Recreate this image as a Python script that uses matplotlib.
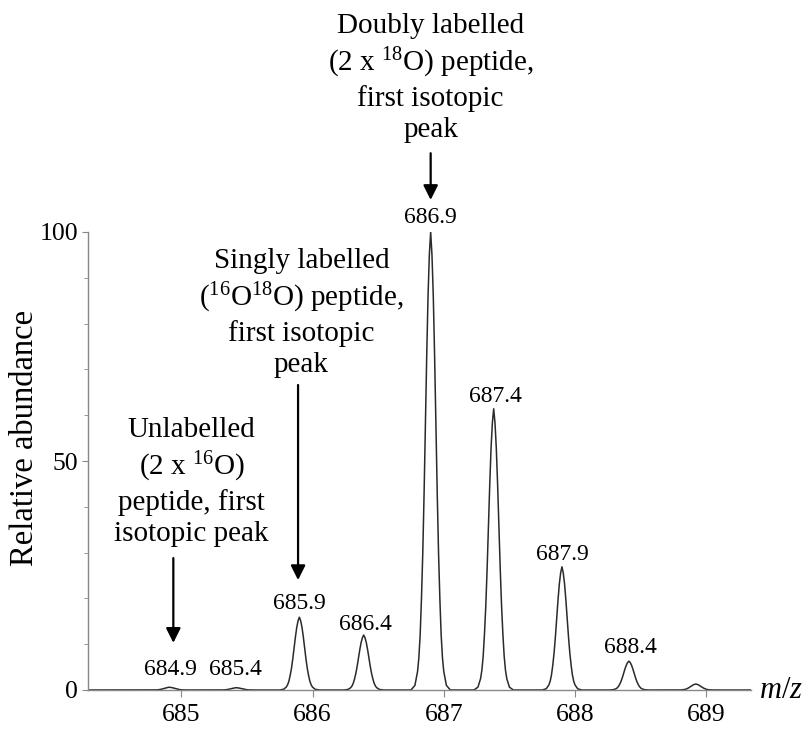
import matplotlib
matplotlib.use("Agg")
import matplotlib.pyplot as plt
import numpy as np

plt.rcParams['font.family'] = ['Liberation Serif', 'DejaVu Serif']
plt.rcParams['mathtext.fontset'] = 'custom'
plt.rcParams['mathtext.rm'] = 'Liberation Serif'
plt.rcParams['mathtext.it'] = 'Liberation Serif:italic'

# isotopic peaks
peak_mz = [684.91, 685.42, 685.90, 686.39, 686.90, 687.38, 687.90, 688.41, 688.92]
peak_height = [0.6, 0.5, 15.9, 12.0, 100.0, 61.4, 26.9, 6.3, 1.3]

# shape of one peak (offset in m/z, fraction of its height), read from the 686.9 peak
shape_offset = [0.0, 0.01, 0.02, 0.03, 0.04, 0.05, 0.06, 0.07, 0.08, 0.09, 0.10, 0.12, 0.15]
shape_frac = [1.0, 0.95, 0.86, 0.73, 0.58, 0.43, 0.30, 0.20, 0.12, 0.07, 0.04, 0.01, 0.0]

# labelled m/z values above peaks
mz_labels = ["684.9", "685.4", "685.9", "686.4", "686.9", "687.4", "687.9", "688.4"]
mz_label_x = [684.92, 685.41, 685.90, 686.40, 686.90, 687.39, 687.90, 688.42]
mz_label_y = [4.4, 4.4, 18.8, 14.2, 103.1, 64.0, 29.5, 9.2]

notes = [
    "Unlabelled\n(2 x $^{16}$O)\npeptide, first\nisotopic peak",
    "Singly labelled\n($^{16}$O$^{18}$O) peptide,\nfirst isotopic\npeak",
    "Doubly labelled\n(2 x $^{18}$O) peptide,\nfirst isotopic\npeak",
]
note_x = [685.08, 685.915, 686.90]
note_y = [45.4, 82.3, 133.6]
arrow_x = [684.94, 685.89, 686.90]
arrow_from = [28.8, 66.6, 117.2]
arrow_to = [10.3, 24.0, 107.0]

# build the trace from the peak table
xmin, xmax = 684.29, 689.34
off = np.array(shape_offset)
frac = np.array(shape_frac)
xs = [xmin]
ys = [0.0]
for c, h in zip(peak_mz, peak_height):
    xs += list(c - off[::-1]) + list(c + off[1:])
    ys += list(h * frac[::-1]) + list(h * frac[1:])
xs.append(xmax)
ys.append(0.0)

fig = plt.figure(figsize=(8.05, 7.3), dpi=100)
ax = fig.add_axes([88 / 805, 1 - 690 / 730, 663 / 805, 458 / 730])

ax.plot(xs, ys, color='#2a2a2a', lw=1.1, solid_joinstyle='round')

ax.set_xlim(xmin, xmax)
ax.set_ylim(0, 100)
ax.spines['top'].set_visible(False)
ax.spines['right'].set_visible(False)
for s in ['left', 'bottom']:
    ax.spines[s].set_color('#888888')
    ax.spines[s].set_linewidth(1.0)

ax.set_xticks([685, 686, 687, 688, 689])
ax.set_yticks([0, 50, 100])
ax.set_yticks(np.arange(0, 101, 10), minor=True)
ax.tick_params(axis='x', length=5, color='#888888', labelsize=18.5, pad=5)
ax.tick_params(axis='y', which='major', length=4, color='#888888', labelsize=18.5, pad=3)
ax.tick_params(axis='y', which='minor', length=3, color='#888888')

ax.set_ylabel("Relative abundance", fontsize=23.5)
ax.yaxis.set_label_coords(-0.072, 0.55)
ax.text(1.012, 0.0, "$m/z$", transform=ax.transAxes, fontsize=22,
        ha='left', va='center')

for t, x, y in zip(mz_labels, mz_label_x, mz_label_y):
    ax.text(x, y, t, ha='center', va='center', fontsize=17, clip_on=False)

for t, x, y in zip(notes, note_x, note_y):
    ax.text(x, y, t, ha='center', va='center', fontsize=21, linespacing=1.25,
            clip_on=False)

for x, y0, y1 in zip(arrow_x, arrow_from, arrow_to):
    ax.annotate("", xy=(x, y1), xytext=(x, y0), annotation_clip=False,
                arrowprops=dict(arrowstyle='-|>', color='black', lw=1.6,
                                mutation_scale=22, shrinkA=0, shrinkB=0))

fig.savefig("out.png", dpi=100)
